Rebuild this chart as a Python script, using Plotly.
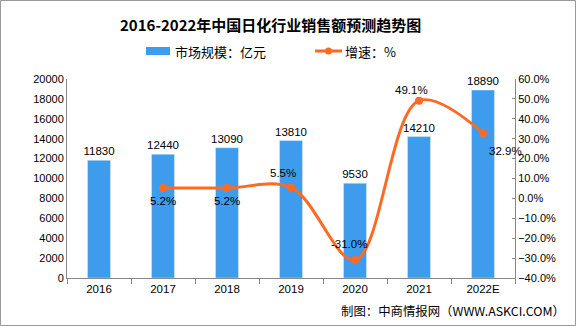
import plotly.graph_objects as go

years = ["2016", "2017", "2018", "2019", "2020", "2021", "2022E"]
sales = [11830, 12440, 13090, 13810, 9530, 14210, 18890]
growth_years = ["2017", "2018", "2019", "2020", "2021", "2022E"]
growth = [5.2, 5.2, 5.5, -31.0, 49.1, 32.9]
growth_labels = ["5.2%", "5.2%", "5.5%", "-31.0%", "49.1%", "32.9%"]
label_shift = [(0, -13), (0, -13), (-8, 14), (-6, 16), (-8, 11), (22, -18)]
bar_name = "市场规模：亿元"
line_name = "增速：%"

BAR = "#3D9CEC"
LINE = "#FF6A22"
FONT = "Liberation Sans, Noto Sans CJK SC"

xpos = list(range(len(years)))
gpos = [years.index(y) for y in growth_years]

fig = go.Figure()
fig.add_trace(go.Bar(
    x=xpos, y=sales, name=bar_name, marker_color=BAR, width=0.36,
    text=[str(v) for v in sales], textposition="outside", constraintext="none",
    textfont=dict(size=11.5, color="#000", family=FONT), cliponaxis=False, showlegend=False,
))
fig.add_trace(go.Scatter(
    x=gpos, y=growth, name=line_name, yaxis="y2", mode="lines+markers",
    line=dict(color=LINE, width=3, shape="spline", smoothing=1.0),
    marker=dict(color=LINE, size=8), showlegend=False,
))

for xv, yv, t, (dx, dy) in zip(gpos, growth, growth_labels, label_shift):
    fig.add_annotation(x=xv, y=yv, xref="x", yref="y2", text=t, showarrow=False,
                       xshift=dx, yshift=dy, font=dict(size=11.5, color="#000", family=FONT))

W, H = 576, 326
L, R, T, B = 67, 515, 79, 278
pw, ph = R - L, B - T

def px_x(px):
    return (px - L) / pw

def px_y(py):
    return (B - py) / ph

# title and source
fig.add_annotation(x=px_x(567), y=px_y(311), xref="paper", yref="paper", xanchor="right",
                   yanchor="middle", text="制图：中商情报网（WWW.ASKCI.COM）", showarrow=False,
                   font=dict(size=12.4, color="#000", family="Noto Sans CJK SC"))
fig.add_annotation(x=px_x(270), y=px_y(25), xref="paper", yref="paper", xanchor="center",
                   yanchor="middle", text="<b>2016-2022年中国日化行业销售额预测趋势图</b>",
                   showarrow=False, font=dict(size=15, color="#000", family="Noto Sans CJK SC"))

# custom legend
LY = 51
fig.add_shape(type="rect", xref="paper", yref="paper", x0=px_x(146), x1=px_x(170),
              y0=px_y(LY + 4), y1=px_y(LY - 4), fillcolor=BAR, line=dict(width=0))
fig.add_annotation(x=px_x(173), y=px_y(LY), xref="paper", yref="paper", xanchor="left",
                   yanchor="middle", text=bar_name, showarrow=False,
                   font=dict(size=13, color="#000", family="Noto Sans CJK SC"))
fig.add_shape(type="line", xref="paper", yref="paper", x0=px_x(315), x1=px_x(342),
              y0=px_y(LY), y1=px_y(LY), line=dict(color=LINE, width=3))
fig.add_shape(type="circle", xref="paper", yref="paper", x0=px_x(325), x1=px_x(332),
              y0=px_y(LY + 3.5), y1=px_y(LY - 3.5), fillcolor=LINE, line=dict(width=0))
fig.add_annotation(x=px_x(343), y=px_y(LY), xref="paper", yref="paper", xanchor="left",
                   yanchor="middle", text=line_name, showarrow=False,
                   font=dict(size=13, color="#000", family="Noto Sans CJK SC"))

# outer border
fig.add_shape(type="rect", xref="paper", yref="paper",
              x0=px_x(0.5), x1=px_x(W - 0.5), y0=px_y(H - 0.5), y1=px_y(0.5),
              line=dict(color="#999", width=1), fillcolor="rgba(0,0,0,0)", layer="below")

fig.update_layout(
    width=W, height=H, margin=dict(l=L, r=W - R, t=T, b=H - B),
    paper_bgcolor="white", plot_bgcolor="white",
    font=dict(family=FONT, size=11, color="#000"),
    showlegend=False,
    xaxis=dict(range=[-0.5, len(years) - 0.5], tickmode="array", tickvals=xpos, ticktext=years,
               showline=True, linecolor="#888", linewidth=1, ticks="", showgrid=False, tickangle=0,
               zeroline=False, tickfont=dict(size=11.5, family=FONT),
               minor=dict(tickmode="array", tickvals=[p - 0.5 for p in xpos] + [len(years) - 0.5],
                          ticks="outside", ticklen=5, tickcolor="#888", showgrid=False)),
    yaxis=dict(range=[0, 20000], dtick=2000, tickformat="d", showline=True, linecolor="#888",
               linewidth=1, showgrid=False, zeroline=False, ticks="",
               tickfont=dict(size=11, family=FONT)),
    yaxis2=dict(range=[-40, 60], dtick=10, overlaying="y", side="right", showline=True,
                linecolor="#888", linewidth=1, showgrid=False, zeroline=False,
                ticks="inside", ticklen=3, tickcolor="#888", ticksuffix="%", tickformat=".1f",
                tickfont=dict(size=11, family=FONT)),
)

fig.write_html("out.html")
